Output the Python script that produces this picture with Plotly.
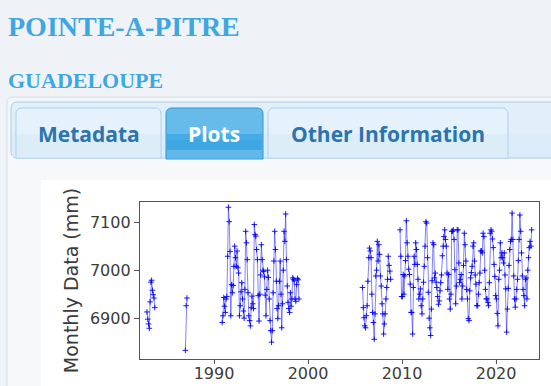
import plotly.graph_objects as go

W, H = 551, 386

PAGE_TITLE = "POINTE-A-PITRE"
PAGE_SUBTITLE = "GUADELOUPE"
TABS = ["Metadata", "Plots", "Other Information"]
Y_LABEL = "Monthly Data (mm)"
X_TICK_YEARS = [1990, 2000, 2010, 2020]
X_TICK_LABELS = ["1990", "2000", "2010", "2020"]
Y_TICK_VALUES = [6900, 7000, 7100]

N = None
# Monthly mean sea level (mm), Jan..Dec per year; None = missing
MSL = {
    1982: [N, N, N, N, N, N, N, N, N, N, 6913, 6898],
    1983: [6888, 6879, 6934, 6975, 6979, 6958, 6949, 6942, 6922, N, N, N],
    1984: [N] * 12,
    1985: [N] * 12,
    1986: [N, N, N, N, N, N, N, N, N, N, N, 6833],
    1987: [6926, 6942, N, N, N, N, N, N, N, N, N, N],
    1988: [N] * 12,
    1989: [N] * 12,
    1990: [N, N, N, N, N, N, N, N, N, N, 6891, 6905],
    1991: [6943, 6925, 6912, 6940, 6945, 7029, 7131, 7101, 7039, 6905, 6970, 6953],
    1992: [6968, 7008, 7050, 7026, 7008, 7040, 7005, 6994, 6905, 6926, 6955, 6974],
    1993: [6940, 6915, 6900, 6960, 7081, 7057, 7022, 6953, 6905, 6895, 6884, 6922],
    1994: [6946, 6930, 6920, 7095, 7074, 7071, 7043, 7022, 6947, 6894, 6950, 6990],
    1995: [7053, 7022, 7000, 6997, 6986, 6948, 6905, 6960, 7000, 6985, 6940, 6895],
    1996: [6874, 6850, 6874, 6953, 7019, 7081, 7043, 6977, 6920, 6899, 6926, 6977],
    1997: [7019, 6950, 6880, 6930, 7000, 7081, 7060, 7117, 7022, 6967, 6933, 6920],
    1998: [6912, 6953, 6925, 6940, 6984, 6981, 6978, 6940, 6935, 6970, 6983, 6980],
    1999: [6940, N, N, N, N, N, N, N, N, N, N, N],
    2000: [N] * 12,
    2001: [N] * 12,
    2002: [N] * 12,
    2003: [N] * 12,
    2004: [N] * 12,
    2005: [N, N, N, N, N, N, N, N, N, 6964, 6922, 6901],
    2006: [6884, 6880, 6905, 6926, 6977, 7026, 7046, 7040, 7026, 6950, 6912, 6891],
    2007: [6856, 6909, 6988, 7000, 7060, 7019, 7053, 7033, 6988, 6967, 6930, 6909],
    2008: [6867, 6888, 6909, 6940, 6964, 6981, 7029, 7010, 6998, 6981, N, N],
    2009: [N, N, N, N, N, N, N, N, N, 7084, 7029, 6945],
    2010: [6945, 6991, 6950, 6988, 7020, 7103, 7057, 7029, 7002, 6991, 6971, 6912],
    2011: [6912, 6867, 6964, 7029, 7012, 7057, 7043, 7012, 6981, 6940, 6950, 6961],
    2012: [6926, 6909, 6940, 6975, 7008, 7050, 7101, 7098, 7026, 6954, 6900, 6880],
    2013: [6864, 6919, 6978, 7057, 7053, 6984, 6994, 6975, 6964, 6945, 6929, 6936],
    2014: [6957, 6974, 6990, 7030, 7050, 7070, 7084, 7064, 7050, 6994, 6960, 6991],
    2015: [6940, 6919, 6950, 7081, 7081, 7084, 7064, 7001, 6930, 6967, 7084, 7084],
    2016: [7015, 6974, 6981, 6991, 6940, 6967, 7010, 7077, 7053, 7019, 6960, 6940],
    2017: [6899, 6895, 6957, 6984, 6995, 7008, 7050, 7057, 7019, 6990, 6971, 6926],
    2018: [6926, 6950, 6974, 6994, 7040, 7040, 7036, 7077, 7070, 7000, 6960, 6940],
    2019: [6940, 6933, 6926, 6974, 7077, 7084, 7081, 7065, 7047, 7012, 6987, 6947],
    2020: [6940, 6910, 6884, 6981, 7000, 7057, 7026, 7036, 7026, 7015, 7036, 6990],
    2021: [6961, 6871, 6919, 6962, 7010, 7043, 7060, 7064, 7119, 7064, 6988, 6940],
    2022: [6923, 6940, 6960, 6981, 7020, 7064, 7115, 7081, 7036, 6988, 6960, 6947],
    2023: [6926, 6981, 6984, 6940, 7000, 7026, 7047, 7060, 7050, 7084, N, N],
}

# ---- build series through a date axis ----
dates, values = [], []
for yr in sorted(MSL):
    for m, v in enumerate(MSL[yr], start=1):
        dates.append(f"{yr}-{m:02d}-15")
        values.append(v)

# ---- page geometry helpers (pixel -> paper) ----
def X(v):
    return v / W


def Y(v):
    return 1 - v / H


def rect(x0, y0, x1, y1, fill, line=None, lw=0):
    return dict(type="rect", xref="paper", yref="paper",
                x0=X(x0), x1=X(x1), y0=Y(y1), y1=Y(y0),
                fillcolor=fill, line=dict(color=line or fill, width=lw),
                layer="below")


def rtop(x0, y0, x1, y1, r, fill, line=None, lw=0, bottom_round=False):
    p = f"M {X(x0)},{Y(y1 - (r if bottom_round else 0))} "
    p += f"L {X(x0)},{Y(y0 + r)} Q {X(x0)},{Y(y0)} {X(x0 + r)},{Y(y0)} "
    p += f"L {X(x1 - r)},{Y(y0)} Q {X(x1)},{Y(y0)} {X(x1)},{Y(y0 + r)} "
    if bottom_round:
        p += f"L {X(x1)},{Y(y1 - r)} Q {X(x1)},{Y(y1)} {X(x1 - r)},{Y(y1)} "
        p += f"L {X(x0 + r)},{Y(y1)} Q {X(x0)},{Y(y1)} {X(x0)},{Y(y1 - r)} Z"
    else:
        p += f"L {X(x1)},{Y(y1)} Z"
    return dict(type="path", xref="paper", yref="paper", path=p,
                fillcolor=fill, line=dict(color=line or fill, width=lw),
                layer="below")


PAGE_BG = "#eff3f7"
shapes = [
    rtop(7, 97, 600, 420, 6, "#f4f7fa", "#d6dde4", 1, bottom_round=True),
    rect(8, 158, 551, 386, "#f7f8fa"),
    rtop(11, 102, 600, 158, 6, "#e2eff9", "#a9cce8", 1, bottom_round=True),
    rect(12, 133, 551, 157, "#dcecf8"),
    # Metadata tab
    rtop(16, 108, 161, 158, 6, "#e6f2fb", "#a9cfee", 1),
    rect(17, 134, 160, 157.5, "#ddedf8"),
    # Plots tab (active)
    rtop(166, 108, 263, 159, 6, "#66bbeb", "#2f93d8", 1),
    rect(167, 134, 262, 158.5, "#45abe5"),
    rect(167, 140, 262, 158.5, "#3da7e3"),
    rect(167, 150, 262, 158.5, "#62b8e9"),
    # Other Information tab
    rtop(268, 108, 508, 158, 6, "#e6f2fb", "#a9cfee", 1),
    rect(269, 134, 507, 157.5, "#ddedf8"),
    # chart image background
    rect(41, 180, 551, 386, "#ffffff"),
]

TITLE_COLOR = "#3ea7e1"
TAB_COLOR = "#2c74ae"
annotations = [
    dict(text=f"<b>{PAGE_TITLE}</b>", x=X(6), y=Y(26), xanchor="left", yanchor="middle",
         font=dict(family="Liberation Serif", size=28, color=TITLE_COLOR)),
    dict(text=f"<b>{PAGE_SUBTITLE}</b>", x=X(6), y=Y(81), xanchor="left", yanchor="middle",
         font=dict(family="Liberation Serif", size=22, color=TITLE_COLOR)),
    dict(text=f"<b>{TABS[0]}</b>", x=X(88.5), y=Y(134), xanchor="center", yanchor="middle",
         font=dict(family="Open Sans", size=21, color=TAB_COLOR)),
    dict(text=f"<b>{TABS[1]}</b>", x=X(214), y=Y(134), xanchor="center", yanchor="middle",
         font=dict(family="Open Sans", size=21, color="#ffffff")),
    dict(text=f"<b>{TABS[2]}</b>", x=X(387.5), y=Y(134), xanchor="center", yanchor="middle",
         font=dict(family="Open Sans", size=21, color=TAB_COLOR)),
]
for a in annotations:
    a.update(xref="paper", yref="paper", showarrow=False)

fig = go.Figure()
fig.add_trace(go.Scatter(
    x=dates, y=values, mode="lines+markers",
    line=dict(color="rgba(30,30,255,0.55)", width=1),
    marker=dict(symbol="cross-thin", size=4, color="rgba(0,0,255,0.9)",
                line=dict(color="rgba(0,0,255,0.9)", width=1)),
    connectgaps=False, showlegend=False, hoverinfo="x+y",
))

AX = "#555555"
TICKF = dict(family="DejaVu Sans", size=16, color="#3c3c3c")
fig.update_layout(
    width=W, height=H,
    margin=dict(l=0, r=0, t=0, b=0),
    paper_bgcolor=PAGE_BG, plot_bgcolor="#ffffff",
    shapes=shapes, annotations=annotations, showlegend=False,
    xaxis=dict(
        type="date", domain=[X(140), X(539)],
        range=["1982-02-17", "2024-07-26"],
        tickvals=[f"{y}-01-01" for y in X_TICK_YEARS], ticktext=X_TICK_LABELS,
        showgrid=False, zeroline=False, showline=True, mirror=True,
        linecolor=AX, linewidth=1.3, ticks="outside", ticklen=4, tickwidth=1.2,
        tickcolor=AX, tickfont=TICKF, automargin=False, ticklabelstandoff=-4,
    ),
    yaxis=dict(
        domain=[Y(359), Y(202)], range=[6815, 7142],
        tickvals=Y_TICK_VALUES, ticktext=[str(v) for v in Y_TICK_VALUES],
        showgrid=False, zeroline=False, showline=True, mirror=True,
        linecolor=AX, linewidth=1.3, ticks="outside", ticklen=5, tickwidth=1.2,
        tickcolor=AX, tickfont=TICKF, automargin=False,
        title=dict(text=Y_LABEL, standoff=6,
                   font=dict(family="DejaVu Sans", size=19, color="#3c3c3c")),
    ),
)

fig.write_html("out.html")
